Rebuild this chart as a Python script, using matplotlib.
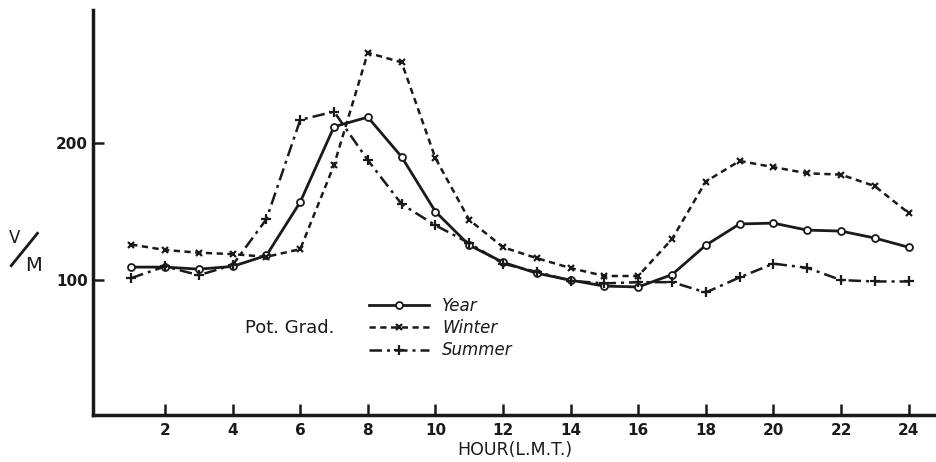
#!/usr/bin/env python3

import matplotlib
matplotlib.use('Agg')
import matplotlib.pyplot as plt
from matplotlib.lines import Line2D

hours = list(range(1, 25))

year = [109.5, 109.5, 108, 110, 118, 157, 212, 219, 190, 150, 125.5, 113,
        105, 100, 95.6, 95, 104, 125.5, 141, 141.6, 136.5, 135.8, 130.7, 124]
winter = [126, 122, 120, 119, 117, 122.6, 184, 266, 259, 189, 144, 124,
          116, 108.8, 103, 103, 130, 172, 187, 182.5, 178, 177, 168.6, 149]
summer = [101.5, 110, 103.6, 111, 144.5, 217, 223, 187.6, 155.5, 140, 127, 112,
          106, 99.5, 97.6, 98.5, 98.5, 91, 102, 112, 109, 100, 99, 99]

xticks = list(range(2, 25, 2))
yticks = [100, 200]

ink = '#1a1a1a'
plt.rcParams['font.family'] = 'DejaVu Sans'

fig = plt.figure(figsize=(9.36, 4.62), dpi=100)
ax = fig.add_axes([0.0994, 0.1017, 0.9006, 0.876])

ax.plot(hours, year, color=ink, linewidth=2.0, marker='o', markersize=5,
        markerfacecolor='white', markeredgecolor=ink, markeredgewidth=1.3)
ax.plot(hours, winter, color=ink, linewidth=1.8, linestyle=(0, (2.5, 1.8)),
        marker='x', markersize=5, markeredgewidth=1.6)
ax.plot(hours, summer, color=ink, linewidth=1.8, linestyle=(0, (5, 2, 1.2, 2)),
        marker='+', markersize=7, markeredgewidth=1.6)

ax.set_xlim(-0.13, 24.81)
ax.set_ylim(1.5, 297)

for side in ['top', 'right']:
    ax.spines[side].set_visible(False)
for side in ['left', 'bottom']:
    ax.spines[side].set_linewidth(2.5)
    ax.spines[side].set_color(ink)

ax.set_xticks(xticks)
ax.set_yticks(yticks)
ax.tick_params(direction='in', length=8, width=1.8, color=ink,
               labelsize=11, labelcolor=ink)
ax.tick_params(axis='x', pad=6)
for lab in ax.get_xticklabels() + ax.get_yticklabels():
    lab.set_fontweight('bold')

ax.set_xlabel('HOUR(L.M.T.)', fontsize=12.5, color=ink, labelpad=2)

# V/M unit label, written as a slanted fraction
fig.text(0.016, 0.485, 'V', fontsize=12, color=ink, ha='center', va='center')
fig.text(0.036, 0.425, 'M', fontsize=14, color=ink, ha='center', va='center')
fig.add_artist(Line2D([0.012, 0.040], [0.425, 0.495], transform=fig.transFigure,
                      color=ink, linewidth=2))

handles = [
    Line2D([], [], color=ink, linewidth=2.0, marker='o', markersize=5,
           markerfacecolor='white', markeredgewidth=1.3),
    Line2D([], [], color=ink, linewidth=1.8, linestyle=(0, (2.5, 1.8)),
           marker='x', markersize=5, markeredgewidth=1.6),
    Line2D([], [], color=ink, linewidth=1.8, linestyle=(0, (5, 2, 1.2, 2)),
           marker='+', markersize=7, markeredgewidth=1.6),
]
leg = fig.legend(handles, ['Year', 'Winter', 'Summer'], loc='upper left',
                 bbox_to_anchor=(0.394, 0.357), frameon=False, fontsize=12,
                 handlelength=3.6, labelspacing=0.25, handletextpad=0.8,
                 borderaxespad=0, borderpad=0)
for t in leg.get_texts():
    t.set_color(ink)
    t.set_style('italic')

fig.text(0.262, 0.29, 'Pot. Grad.', fontsize=13, color=ink, ha='left', va='center')

plt.savefig('out.png', dpi=100)
